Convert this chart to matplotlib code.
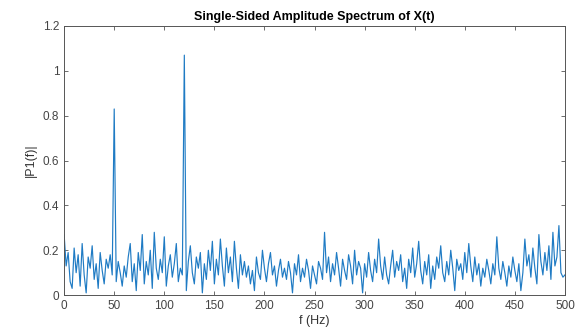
import numpy as np
import matplotlib.pyplot as plt

# single-sided amplitude spectrum at 2 Hz steps
freqs = np.arange(0, 502, 2)
p1 = [
    0.27, 0.13, 0.19, 0.06, 0.03, 0.21, 0.10, 0.18, 0.04, 0.23,
    0.09, 0.01, 0.17, 0.12, 0.22, 0.07, 0.14, 0.03, 0.19, 0.11,
    0.05, 0.16, 0.12, 0.18, 0.09, 0.83, 0.06, 0.15, 0.10, 0.04,
    0.13, 0.08, 0.17, 0.23, 0.06, 0.14, 0.02, 0.19, 0.11, 0.27,
    0.05, 0.15, 0.09, 0.20, 0.03, 0.28, 0.12, 0.07, 0.16, 0.10,
    0.26, 0.04, 0.13, 0.18, 0.08, 0.14, 0.23, 0.06, 0.12, 0.09,
    1.07, 0.02, 0.15, 0.22, 0.10, 0.05, 0.17, 0.12, 0.19, 0.01,
    0.14, 0.07, 0.20, 0.11, 0.24, 0.05, 0.16, 0.09, 0.25, 0.13,
    0.04, 0.21, 0.10, 0.17, 0.06, 0.24, 0.12, 0.03, 0.18, 0.09,
    0.15, 0.08, 0.13, 0.05, 0.11, 0.02, 0.17, 0.10, 0.07, 0.20,
    0.12, 0.06, 0.14, 0.19, 0.09, 0.13, 0.04, 0.11, 0.16, 0.08,
    0.12, 0.07, 0.15, 0.10, 0.01, 0.14, 0.09, 0.18, 0.06, 0.12,
    0.08, 0.16, 0.11, 0.03, 0.13, 0.09, 0.05, 0.15, 0.12, 0.07,
    0.28, 0.10, 0.17, 0.06, 0.14, 0.09, 0.19, 0.12, 0.04, 0.16,
    0.11, 0.07, 0.18, 0.13, 0.05, 0.20, 0.09, 0.15, 0.12, 0.01,
    0.14, 0.08, 0.19, 0.11, 0.06, 0.16, 0.10, 0.25, 0.13, 0.07,
    0.17, 0.09, 0.05, 0.13, 0.20, 0.08, 0.15, 0.11, 0.18, 0.06,
    0.12, 0.03, 0.16, 0.10, 0.21, 0.08, 0.14, 0.24, 0.11, 0.05,
    0.15, 0.09, 0.18, 0.03, 0.13, 0.07, 0.17, 0.12, 0.22, 0.10,
    0.06, 0.15, 0.09, 0.20, 0.12, 0.02, 0.16, 0.11, 0.14, 0.07,
    0.19, 0.10, 0.23, 0.13, 0.06, 0.17, 0.09, 0.14, 0.04, 0.12,
    0.08, 0.16, 0.11, 0.05, 0.14, 0.09, 0.26, 0.12, 0.07, 0.15,
    0.10, 0.04, 0.13, 0.08, 0.17, 0.11, 0.06, 0.14, 0.02, 0.10,
    0.25, 0.13, 0.18, 0.08, 0.21, 0.12, 0.05, 0.27, 0.15, 0.09,
    0.19, 0.11, 0.22, 0.07, 0.28, 0.13, 0.17, 0.31, 0.10, 0.08,
    0.09,
]

plt.rcParams['font.family'] = ['Liberation Sans', 'DejaVu Sans']

fig = plt.figure(figsize=(5.83, 3.29), dpi=100)
ax = fig.add_axes([0.110, 0.103, 0.859, 0.818])

ax.plot(freqs, p1, color='#1f7bc4', linewidth=0.85)

ax.set_xlim(0, 500)
ax.set_ylim(0, 1.2)
ax.set_xticks(np.arange(0, 501, 50))
ax.set_yticks([0, 0.2, 0.4, 0.6, 0.8, 1.0, 1.2])
ax.set_yticklabels(['0', '0.2', '0.4', '0.6', '0.8', '1', '1.2'])

ax.tick_params(direction='in', top=True, right=True, length=3, width=0.6,
               colors='#555555', labelsize=8.5, labelcolor='#444444')
for s in ax.spines.values():
    s.set_color('#555555')
    s.set_linewidth(0.7)

ax.set_title('Single-Sided Amplitude Spectrum of X(t)', fontsize=9, fontweight='bold', pad=4)
ax.set_xlabel('f (Hz)', fontsize=9, color='#333333', labelpad=2)
ax.set_ylabel('|P1(f)|', fontsize=9, color='#333333')

fig.savefig('out.png', dpi=100)
